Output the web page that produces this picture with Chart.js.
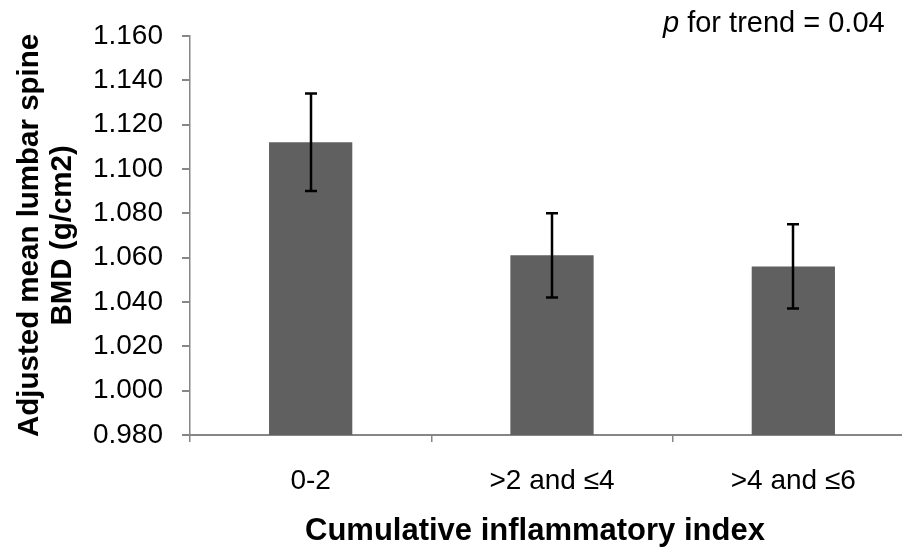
<!DOCTYPE html>
<html>
<head>
<meta charset="utf-8">
<script src="https://cdn.jsdelivr.net/npm/chart.js@4.4.0/dist/chart.umd.min.js"></script>
<style>
  html, body { margin: 0; padding: 0; background: #fff; overflow: hidden; }
  #wrap { width: 902px; height: 550px; overflow: hidden; }
</style>
</head>
<body>
<div id="wrap"><canvas id="myChart" width="914" height="550"></canvas></div>
<script>
const categories = ["0-2", ">2 and \u22644", ">4 and \u22646"]
const bmdMeans = [1.112, 1.061, 1.056]
const errLow = [1.090, 1.042, 1.037]
const errHigh = [1.134, 1.080, 1.075]
const yMin = 0.98
const yMax = 1.16
const yStep = 0.02

const FONT = "'Liberation Sans', Arial, sans-serif"

// error bars drawn through the y scale
const errorBars = {
  id: "errorBars",
  afterDatasetsDraw(chart) {
    const ctx = chart.ctx
    const y = chart.scales.y
    const meta = chart.getDatasetMeta(0)
    ctx.save()
    ctx.strokeStyle = "#000"
    ctx.lineWidth = 2.5
    meta.data.forEach((bar, i) => {
      const x = Math.round(bar.x)
      const top = y.getPixelForValue(errHigh[i])
      const bot = y.getPixelForValue(errLow[i])
      ctx.beginPath()
      ctx.moveTo(x, top)
      ctx.lineTo(x, bot)
      ctx.moveTo(x - 6, top)
      ctx.lineTo(x + 6, top)
      ctx.moveTo(x - 6, bot)
      ctx.lineTo(x + 6, bot)
      ctx.stroke()
    })
    ctx.restore()
  }
}

// p-value note and x axis title (title sits a little left of the plot centre)
const notes = {
  id: "notes",
  afterDraw(chart) {
    const ctx = chart.ctx
    ctx.save()
    ctx.fillStyle = "#000"
    ctx.textBaseline = "middle"
    ctx.textAlign = "left"
    const x0 = 663
    ctx.font = "italic 29px " + FONT
    ctx.fillText("p", x0, 24)
    const w = ctx.measureText("p ").width
    ctx.font = "29px " + FONT
    ctx.fillText("for trend = 0.04", x0 + w, 24)

    ctx.font = "bold 31px " + FONT
    ctx.fillText("Cumulative inflammatory index", 305, 531)
    ctx.restore()
  }
}

const myChartRef = document.getElementById("myChart").getContext("2d")
new Chart(myChartRef, {
  type: "bar",
  data: {
    labels: categories,
    datasets: [
      {
        label: "BMD",
        data: bmdMeans,
        backgroundColor: "#606060",
        borderWidth: 0,
        barPercentage: 0.345,
        categoryPercentage: 1.0
      }
    ]
  },
  options: {
    responsive: false,
    animation: false,
    layout: { padding: { top: 35, right: 0, left: 0, bottom: 0 } },
    plugins: { legend: { display: false }, tooltip: { enabled: false } },
    scales: {
      x: {
        grid: {
          offset: true,
          drawOnChartArea: false,
          color: "#868686",
          tickLength: 7,
          lineWidth: 1.5
        },
        border: { color: "#868686", width: 2 },
        ticks: { color: "#000", font: { family: FONT, size: 28 }, padding: 22 },
        afterFit(scale) { scale.height = 115 }
      },
      y: {
        min: yMin,
        max: yMax,
        grid: {
          drawOnChartArea: false,
          color: "#868686",
          tickLength: 8,
          lineWidth: 2
        },
        border: { color: "#868686", width: 1.5 },
        ticks: {
          stepSize: yStep,
          color: "#000",
          font: { family: FONT, size: 28 },
          padding: 19,
          callback: v => v.toFixed(3)
        },
        title: {
          display: true,
          text: ["Adjusted mean lumbar spine", "BMD (g/cm2)"],
          color: "#000",
          font: { family: FONT, size: 29.5, weight: "bold", lineHeight: 1.1 },
          padding: { top: 14 }
        },
        afterFit(scale) { scale.width = 190 }
      }
    }
  },
  plugins: [errorBars, notes]
})
</script>
</body>
</html>
